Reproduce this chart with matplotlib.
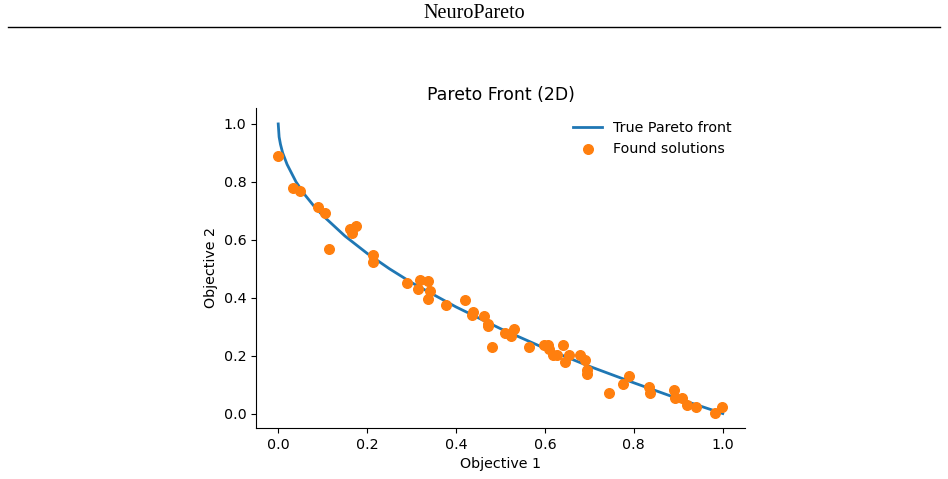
import numpy as np
import matplotlib
matplotlib.use("Agg")
import matplotlib.pyplot as plt
from matplotlib.lines import Line2D

# true front
front_x = [0.0, 0.002, 0.005, 0.01, 0.02, 0.04, 0.06, 0.08, 0.1, 0.15, 0.2, 0.25,
           0.3, 0.4, 0.5, 0.6, 0.7, 0.8, 0.9, 1.0]
front_y = [1.0, 0.955, 0.93, 0.90, 0.86, 0.80, 0.755, 0.717, 0.684, 0.613, 0.553, 0.5,
           0.452, 0.368, 0.293, 0.225, 0.163, 0.106, 0.051, 0.0]

# found solutions
sol_x = [0.0, 0.034, 0.05, 0.09, 0.106, 0.115, 0.162, 0.167, 0.176, 0.214, 0.214,
         0.29, 0.315, 0.318, 0.338, 0.342, 0.338, 0.378, 0.42, 0.435, 0.439, 0.464,
         0.471, 0.473, 0.482, 0.509, 0.523, 0.53, 0.565, 0.597, 0.606, 0.61, 0.617,
         0.626, 0.64, 0.646, 0.655, 0.678, 0.69, 0.694, 0.694, 0.745, 0.775, 0.79,
         0.833, 0.836, 0.89, 0.892, 0.908, 0.92, 0.94, 0.982, 0.998]
sol_y = [0.89, 0.78, 0.77, 0.714, 0.693, 0.569, 0.638, 0.624, 0.648, 0.548, 0.524,
         0.452, 0.431, 0.462, 0.459, 0.424, 0.397, 0.376, 0.393, 0.341, 0.352, 0.338,
         0.31, 0.303, 0.231, 0.279, 0.269, 0.293, 0.231, 0.238, 0.238, 0.224, 0.203,
         0.203, 0.238, 0.179, 0.203, 0.203, 0.186, 0.152, 0.138, 0.072, 0.103, 0.128,
         0.093, 0.072, 0.08, 0.052, 0.052, 0.031, 0.021, 0.003, 0.024]

W, H = 948, 479
fig = plt.figure(figsize=(W / 100, H / 100), dpi=100)

# page header
fig.text(0.5, 1 - 14 / H, "NeuroPareto", ha="center", va="center",
         family="Liberation Serif", fontsize=14.5)
fig.add_artist(Line2D([8 / W, 940 / W], [1 - 27 / H, 1 - 27 / H],
                      color="black", lw=1.0))

ax = fig.add_axes([256 / W, 1 - 428 / H, (745 - 256) / W, (428 - 108) / H])
ax.plot(front_x, front_y, color="tab:blue", lw=2, label="True Pareto front")
ax.scatter(sol_x, sol_y, color="tab:orange", s=48, zorder=3, label="Found solutions")
ax.set_xlim(-0.05, 1.05)
ax.set_ylim(-0.05, 1.055)
ax.set_xticks([0.0, 0.2, 0.4, 0.6, 0.8, 1.0])
ax.set_yticks([0.0, 0.2, 0.4, 0.6, 0.8, 1.0])
ax.tick_params(labelsize=10.3)
ax.set_xlabel("Objective 1", fontsize=10.3)
ax.set_ylabel("Objective 2", fontsize=10.3)
ax.set_title("Pareto Front (2D)", fontsize=12.4)
ax.spines["top"].set_visible(False)
ax.spines["right"].set_visible(False)
ax.legend(frameon=False, loc="upper right", fontsize=10.3,
          bbox_to_anchor=(1.0, 1.0))

fig.savefig("out.png", dpi=100)
